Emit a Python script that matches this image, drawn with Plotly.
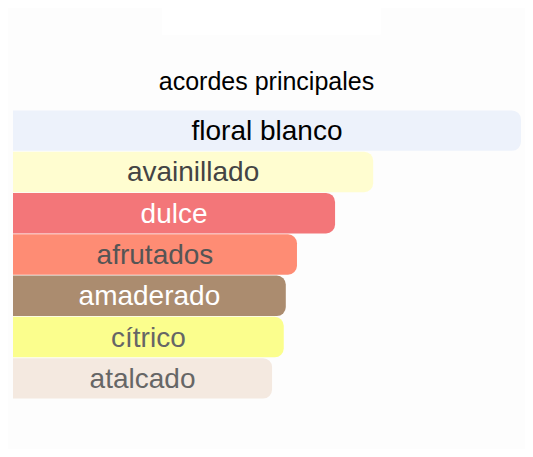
import plotly.graph_objs as go

acordes = ["floral blanco", "avainillado", "dulce", "afrutados",
           "amaderado", "cítrico", "atalcado"]
valores = [100, 70.9, 63.4, 55.9, 53.7, 53.3, 51.0]
colores = ["#EDF2FB", "#FFFDD0", "#F37679", "#FE8C74",
           "#AB8C6F", "#FBFE8D", "#F4E9E0"]
colores_texto = ["#000000", "#444444", "#FFFFFF", "#555555",
                 "#FFFFFF", "#666666", "#666666"]

W, H = 517, 441  # page has an 8px body margin


def main():
    fig = go.Figure()
    fig.add_trace(go.Bar(
        x=valores, y=acordes, orientation="h",
        text=acordes,
        textposition="inside",
        insidetextanchor="middle",
        textangle=0,
        textfont=dict(size=28, color=colores_texto,
                      family="Liberation Sans, Arial, sans-serif"),
        marker=dict(color=colores, line=dict(width=0), cornerradius=9),
        hoverinfo="skip",
    ))

    fig.update_layout(
        width=W, height=H,
        margin=dict(l=5, r=4, t=102, b=50),
        paper_bgcolor="#FDFDFD",
        plot_bgcolor="#FDFDFD",
        showlegend=False,
        bargap=0.02,
        uniformtext=dict(mode=False),
        title=dict(text="acordes principales", x=0.5, xanchor="center",
                   y=1 - 73 / H, yanchor="middle",
                   font=dict(size=25, color="black",
                             family="Liberation Sans, Arial, sans-serif")),
        xaxis=dict(range=[0, 100], visible=False, fixedrange=True),
        yaxis=dict(autorange="reversed", visible=False, fixedrange=True),
    )

    # faint white box at the top of the page
    fig.add_shape(type="rect", xref="paper", yref="paper",
                  x0=0.293, x1=0.724, y0=1.26, y1=1.40,
                  fillcolor="#FFFFFF", line=dict(width=0), layer="below")

    fig.write_html("out.html")


if __name__ == "__main__":
    main()
